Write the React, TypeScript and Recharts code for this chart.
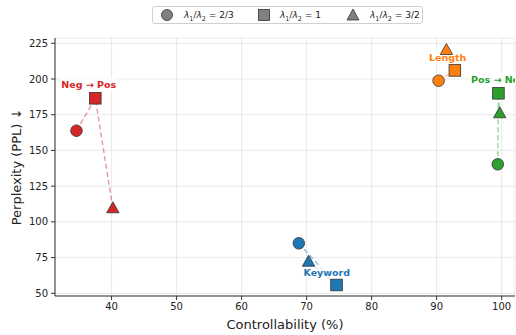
import React from 'react';
import { ScatterChart, Scatter, XAxis, YAxis, CartesianGrid } from 'recharts';

const tasks = ['Neg → Pos', 'Length', 'Pos → Neg', 'Keyword'];
const colors = ['#d62728', '#ff7f0e', '#2ca02c', '#1f77b4'];
const ratios = ['2/3', '1', '3/2'];
const shapes = ['circle', 'square', 'triangle'];

// controllability (%) per task, one array per λ1/λ2 setting
const ctrlA = [34.6, 90.3, 99.4, 68.8];
const ctrlB = [37.5, 92.8, 99.5, 74.6];
const ctrlC = [40.2, 91.5, 99.7, 70.3];
// perplexity per task
const pplA = [163.8, 198.8, 140.3, 85.0];
const pplB = [186.5, 206.0, 190.0, 55.8];
const pplC = [109.5, 220.3, 176.0, 72.1];

// where the task names sit (data coords)
const labelX = [36.5, 91.7, 99.5, 73.1];
const labelY = [196.5, 215.2, 199.8, 64.4];

const xTicks = [40, 50, 60, 70, 80, 90, 100];
const yTicks = [50, 75, 100, 125, 150, 175, 200, 225];
const xDomain = [31.3, 102.05];
const yDomain = [48.1, 228.7];

const groups = tasks.map((t, i) => [
  { x: ctrlA[i], y: pplA[i], m: 0 },
  { x: ctrlB[i], y: pplB[i], m: 1 },
  { x: ctrlC[i], y: pplC[i], m: 2 },
]);

const labels = tasks.map((t, i) => ({ x: labelX[i], y: labelY[i], name: t, c: colors[i] }));

const Marker = (props: any) => {
  const { cx, cy, payload, fill } = props;
  if (cx == null || cy == null) return null;
  const m = payload.m;
  const edge = { stroke: '#333', strokeWidth: 0.8, fill };
  if (m === 0) return <circle cx={cx} cy={cy} r={5.8} {...edge} />;
  if (m === 1) return <rect x={cx - 5.8} y={cy - 5.8} width={11.6} height={11.6} {...edge} />;
  return <polygon points={`${cx},${cy - 6.5} ${cx + 6.2},${cy + 4.5} ${cx - 6.2},${cy + 4.5}`} {...edge} />;
};

const Nothing = () => <g />;

const TaskLabel = (props: any) => {
  const { cx, cy, payload } = props;
  if (cx == null) return null;
  const w = payload.name.length * 5.9 + 4;
  return (
    <g>
      <rect x={cx - w / 2} y={cy - 7} width={w} height={14} fill="#fff" fillOpacity={0.7} />
      <text x={cx} y={cy} textAnchor="middle" dominantBaseline="central" fontSize={9.5} fontWeight="bold" fill={payload.c}>
        {payload.name}
      </text>
    </g>
  );
};

const YLabel = (props: any) => {
  const vb = props.viewBox || { x: 0, y: 38, height: 258 };
  const cx = vb.x + 16;
  const cy = vb.y + vb.height / 2;
  return (
    <text x={cx} y={cy} transform={`rotate(-90 ${cx} ${cy})`} textAnchor="middle" dominantBaseline="central" fontSize={13} fill="#222">
      Perplexity (PPL)  ↓
    </text>
  );
};

const LegendMarker = ({ m }: { m: number }) => (
  <svg width={14} height={14} style={{ display: 'block' }}>
    {m === 0 && <circle cx={7} cy={7} r={5.5} fill="#808080" stroke="#333" strokeWidth={0.8} />}
    {m === 1 && <rect x={1.5} y={1.5} width={11} height={11} fill="#808080" stroke="#333" strokeWidth={0.8} />}
    {m === 2 && <polygon points="7,1 13,12 1,12" fill="#808080" stroke="#333" strokeWidth={0.8} />}
  </svg>
);

const legendPos = [
  { marker: 159, text: 183 },
  { marker: 256, text: 279 },
  { marker: 345, text: 369 },
];

const App: React.FC = () => {
  return (
    <div style={{ position: 'absolute', left: 0, top: 0, width: 516, height: 335, background: '#fff', fontFamily: '"DejaVu Sans", sans-serif' }}>
      <div style={{ position: 'absolute', left: 152, top: 6, width: 271, height: 18, border: '1px solid #d0d0d0', borderRadius: 3, boxSizing: 'border-box', background: '#fff', zIndex: 2 }}>
        {ratios.map((r, i) => (
          <React.Fragment key={r}>
            <div style={{ position: 'absolute', left: legendPos[i].marker - 152, top: 1 }}>
              <LegendMarker m={i} />
            </div>
            <div style={{ position: 'absolute', left: legendPos[i].text - 152, top: 2, fontSize: 9, color: '#222', whiteSpace: 'nowrap', lineHeight: '12px' }}>
              <i>λ</i><sub style={{ fontSize: 6.5 }}>1</sub>/<i>λ</i><sub style={{ fontSize: 6.5 }}>2</sub> = {r}
            </div>
          </React.Fragment>
        ))}
      </div>
      <ScatterChart width={516} height={335} margin={{ top: 38, right: 1, bottom: 0, left: 0 }}>
        <CartesianGrid stroke="#b0b0b0" strokeOpacity={0.35} strokeWidth={0.8} />
        <XAxis
          type="number"
          dataKey="x"
          domain={xDomain}
          ticks={xTicks}
          allowDataOverflow
          height={39}
          tickSize={4}
          tickMargin={3}
          stroke="#333"
          tick={{ fill: '#222', fontSize: 10 }}
          label={{ value: 'Controllability (%)', position: 'insideBottom', offset: 6, fontSize: 13, fill: '#222' }}
        />
        <YAxis
          type="number"
          dataKey="y"
          domain={yDomain}
          ticks={yTicks}
          allowDataOverflow
          width={55}
          tickSize={4}
          tickMargin={3}
          stroke="#333"
          tick={{ fill: '#222', fontSize: 10 }}
          label={<YLabel />}
        />
        <XAxis xAxisId="top" orientation="top" type="number" dataKey="x" domain={xDomain} allowDataOverflow height={0} tick={false} tickLine={false} stroke="#333" />
        <YAxis yAxisId="right" orientation="right" type="number" dataKey="y" domain={yDomain} allowDataOverflow width={0} tick={false} tickLine={false} stroke="#333" />
        {groups.map((g, i) => (
          <Scatter
            key={'line' + i}
            data={g}
            line={{ stroke: colors[i], strokeOpacity: 0.45, strokeWidth: 1.5, strokeDasharray: '5 3' }}
            shape={<Nothing />}
            isAnimationActive={false}
          />
        ))}
        <Scatter data={labels} shape={<TaskLabel />} isAnimationActive={false} />
        {groups.map((g, i) => (
          <Scatter key={'pts' + i} name={tasks[i]} data={g} fill={colors[i]} shape={<Marker />} isAnimationActive={false} />
        ))}
      </ScatterChart>
    </div>
  );
};

export default App;
